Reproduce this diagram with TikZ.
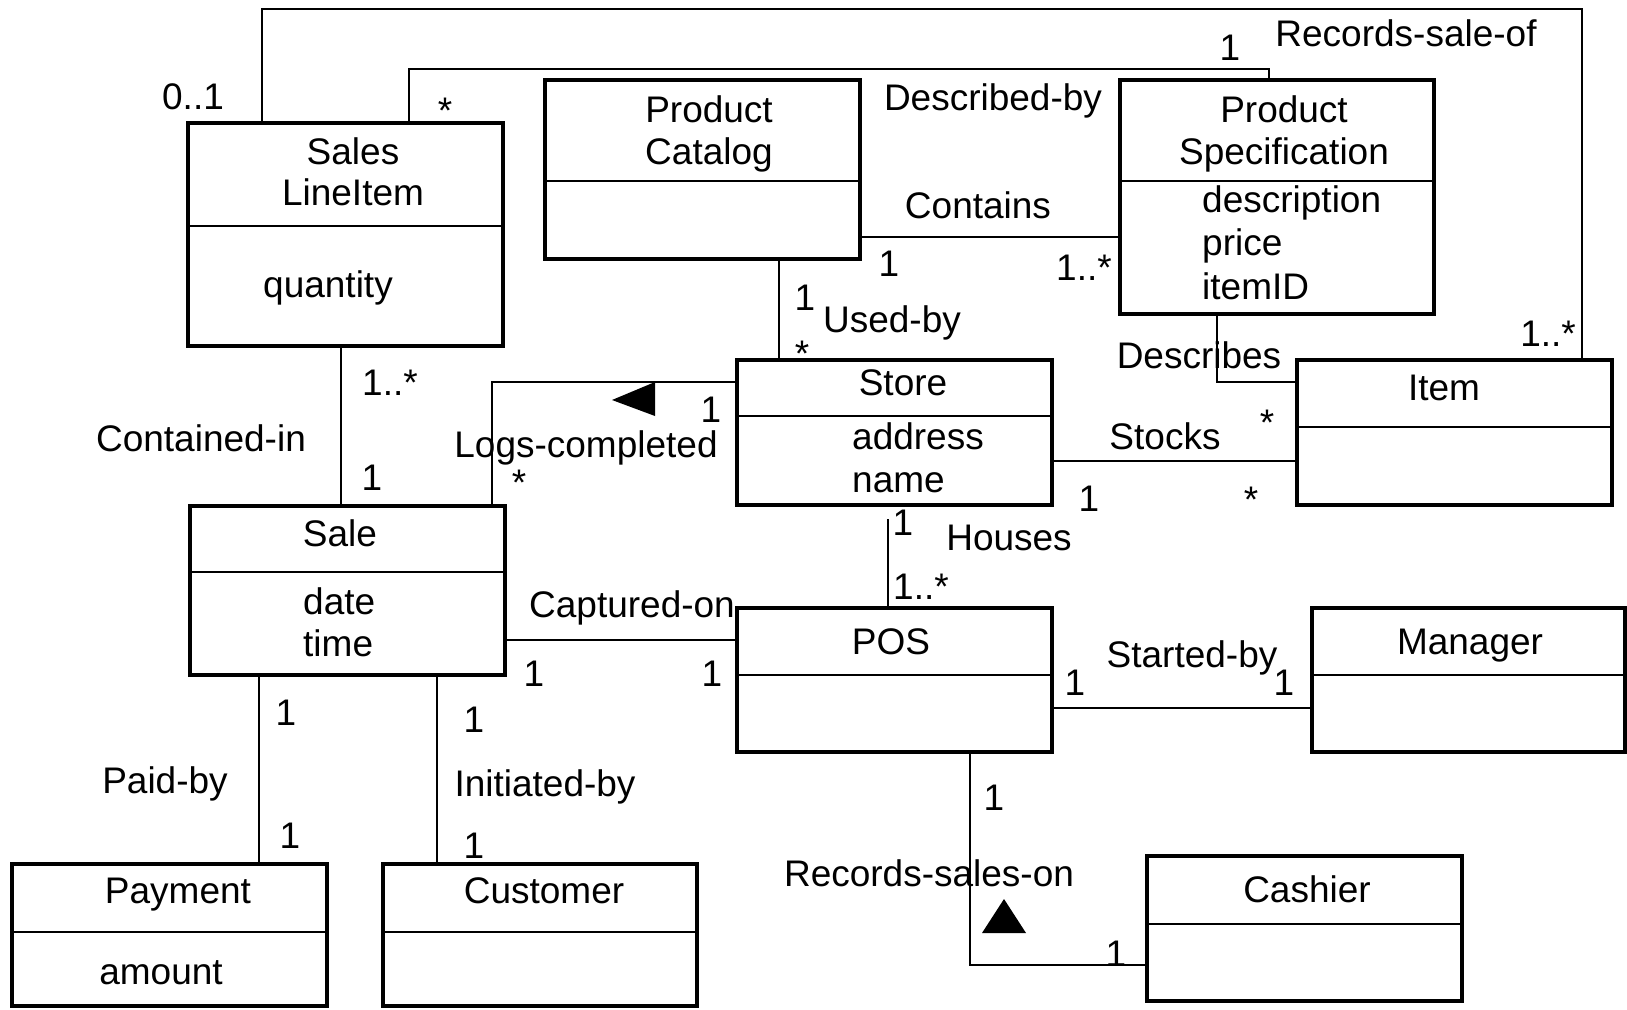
\documentclass[tikz,border=0pt]{standalone}
\usepackage{fontspec}
\setmainfont{Liberation Sans}
\begin{document}
\begin{tikzpicture}[x=1pt,y=-1pt,
  classbox/.style={draw, line width=4pt, inner sep=0pt, rectangle},
  divider/.style={line width=2pt},
  assoc/.style={line width=2pt},
  txt/.style={font=\fontsize{37}{44}\selectfont, inner sep=0pt},
  dirmark/.style={fill=black}]

% canvas
\fill[white] (0,0) rectangle (1627,1009);
\useasboundingbox (0,0) rectangle (1627,1009);

% class box: name, x1, y1, x2, y2, divider y
\newcommand\umlclass[6]{%
  \node[classbox, minimum width={#4-#2}, minimum height={#5-#3}]
    (#1) at ({(#2+#4)/2},{(#3+#5)/2}) {};
  \draw[divider] (#2,#6) -- (#4,#6);
}
% text placed by visual centre (x, y); baseline follows
\newcommand\ttext[4]{\node[txt, anchor=base] (#1) at ({#2},{#3+13}) {#4};}
\newcommand\ltext[4]{\node[txt, anchor=base west] (#1) at ({#2},{#3+13}) {#4};}
\newcommand\stext[3]{\node[txt, anchor=base] (#1) at ({#2},{#3+21}) {*};}

% classes
\umlclass{sli}{188}{123}{503}{346}{226}
\umlclass{pc}{545}{80}{860}{259}{181}
\umlclass{ps}{1120}{80}{1434}{314}{181}
\umlclass{item}{1297}{360}{1612}{505}{427}
\umlclass{store}{737}{360}{1052}{505}{416}
\umlclass{sale}{190}{506}{505}{674.5}{572}
\umlclass{pos}{737}{608}{1052}{751.5}{674.5}
\umlclass{mgr}{1312}{608}{1625}{751.5}{674.5}
\umlclass{pay}{12}{864}{327}{1006}{932}
\umlclass{cust}{383}{864}{697}{1006}{932}
\umlclass{cash}{1147}{856}{1462}{1001}{924}

% class names and attributes
\ttext{sli-n1}{353}{151}{Sales}
\ttext{sli-n2}{353}{192}{LineItem}
\ttext{sli-a1}{328}{284}{quantity}
\ttext{pc-n1}{709}{109}{Product}
\ttext{pc-n2}{709}{151}{Catalog}
\ttext{ps-n1}{1284}{109}{Product}
\ttext{ps-n2}{1284}{151}{Specification}
\ltext{ps-a1}{1202}{199}{description}
\ltext{ps-a2}{1202}{242}{price}
\ltext{ps-a3}{1202}{286}{itemID}
\ttext{item-n}{1444}{387}{Item}
\ttext{store-n}{903}{382}{Store}
\ltext{store-a1}{852}{436}{address}
\ltext{store-a2}{852}{479}{name}
\ttext{sale-n}{340}{533}{Sale}
\ltext{sale-a1}{303}{601}{date}
\ltext{sale-a2}{303}{643}{time}
\ttext{pos-n}{891}{641}{POS}
\ttext{mgr-n}{1470}{641}{Manager}
\ttext{pay-n}{178}{890}{Payment}
\ttext{pay-a1}{161}{971}{amount}
\ttext{cust-n}{544}{890}{Customer}
\ttext{cash-n}{1307}{889}{Cashier}

% bend points of the associations
\coordinate (rs1) at (262,9);
\coordinate (rs2) at (1582,9);
\coordinate (db1) at (409,69);
\coordinate (db2) at (1269,69);
\coordinate (ct) at (0,237);
\coordinate (ub) at (779,0);
\coordinate (ci) at (341,0);
\coordinate (lc) at (492,382);
\coordinate (sk) at (0,461);
\coordinate (ds) at (1217,382);
\coordinate (hs) at (888,0);
\coordinate (co) at (0,640);
\coordinate (sb) at (0,708);
\coordinate (pb) at (259,0);
\coordinate (ib) at (437,0);
\coordinate (rso) at (970,965);

% associations
\draw[assoc] (sli.north -| rs1) -- (rs1) -- (rs2) -- (item.north -| rs2);
\draw[assoc] (sli.north -| db1) -- (db1) -- (db2) -- (ps.north -| db2);
\draw[assoc] (pc.east |- ct) -- (ps.west |- ct);
\draw[assoc] (pc.south -| ub) -- (store.north -| ub);
\draw[assoc] (sli.south -| ci) -- (sale.north -| ci);
\draw[assoc] (store.west |- lc) -- (lc) -- (sale.north -| lc);
\draw[assoc] (store.east |- sk) -- (item.west |- sk);
\draw[assoc] (ps.south -| ds) -- (ds) -- (item.west |- ds);
\draw[assoc, shorten <=12pt] (store.south -| hs) -- (pos.north -| hs);
\draw[assoc] (sale.east |- co) -- (pos.west |- co);
\draw[assoc] (pos.east |- sb) -- (mgr.west |- sb);
\draw[assoc] (sale.south -| pb) -- (pay.north -| pb);
\draw[assoc] (sale.south -| ib) -- (cust.north -| ib);
\draw[assoc] (pos.south -| rso) -- (rso) -- (cash.west |- rso);

% reading-direction markers
\fill[dirmark] (612,400) -- (655,382) -- (655,416) -- cycle;
\fill[dirmark] (1004,899) -- (982,933) -- (1026,933) -- cycle;

% association names
\ttext{l-rso}{1406}{33}{Records-sale-of}
\ttext{l-db}{993}{97}{Described-by}
\ttext{l-ct}{978}{205}{Contains}
\ttext{l-ub}{892}{319}{Used-by}
\ttext{l-ds}{1199}{355}{Describes}
\ttext{l-ci}{201}{438}{Contained-in}
\ttext{l-lc}{586}{444}{Logs-completed}
\ttext{l-sk}{1165}{436}{Stocks}
\ttext{l-hs}{1009}{537}{Houses}
\ttext{l-co}{632}{604}{Captured-on}
\ttext{l-sb}{1192}{654}{Started-by}
\ttext{l-pb}{165}{780}{Paid-by}
\ttext{l-ib}{545}{783}{Initiated-by}
\ttext{l-rsso}{929}{873}{Records-sales-on}

% multiplicities
\ttext{m1}{193}{96}{0..1}
\stext{m2}{445}{102}
\ttext{m3}{1230}{47}{1}
\ttext{m4}{889}{263}{1}
\ttext{m5}{1084}{267}{1..*}
\ttext{m6}{805}{297}{1}
\stext{m7}{802}{345}
\ttext{m8}{1548}{333}{1..*}
\ttext{m9}{390}{382}{1..*}
\ttext{m10}{372}{477}{1}
\ttext{m11}{711}{409}{1}
\stext{m12}{519}{474}
\stext{m13}{1267}{414}
\ttext{m14}{1089}{498}{1}
\stext{m15}{1251}{491}
\ttext{m16}{903}{522}{1}
\ttext{m17}{921}{586}{1..*}
\ttext{m18}{534}{673}{1}
\ttext{m19}{712}{673}{1}
\ttext{m20}{1075}{682}{1}
\ttext{m21}{1284}{682}{1}
\ttext{m22}{286}{712}{1}
\ttext{m23}{474}{719}{1}
\ttext{m24}{290}{835}{1}
\ttext{m25}{474}{845}{1}
\ttext{m26}{994}{797}{1}
\ttext{m27}{1116}{953}{1}

\end{tikzpicture}
\end{document}
